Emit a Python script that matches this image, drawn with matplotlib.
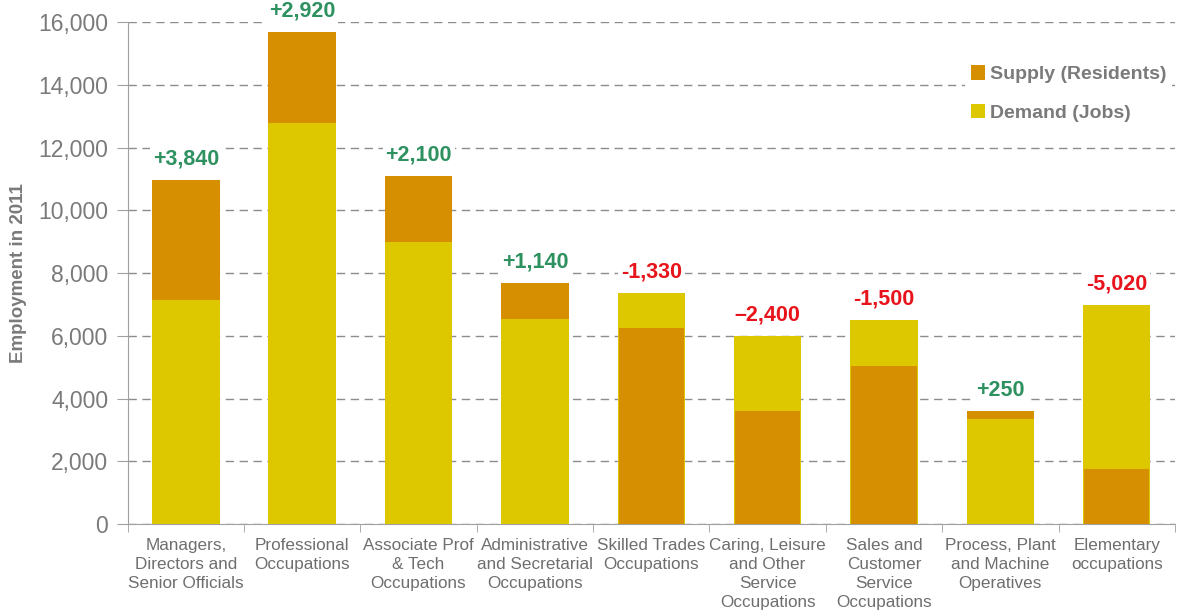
import numpy as np
import matplotlib.pyplot as plt
from matplotlib.patches import Patch

categories = [
    "Managers,\nDirectors and\nSenior Officials",
    "Professional\nOccupations",
    "Associate Prof\n& Tech\nOccupations",
    "Administrative\nand Secretarial\nOccupations",
    "Skilled Trades\nOccupations",
    "Caring, Leisure\nand Other\nService\nOccupations",
    "Sales and\nCustomer\nService\nOccupations",
    "Process, Plant\nand Machine\nOperatives",
    "Elementary\noccupations",
]
supply = [10980, 15700, 11100, 7680, 6250, 3600, 5040, 3600, 1750]
demand = [7140, 12780, 9000, 6540, 7360, 5990, 6500, 3350, 6980]
diff_labels = ["+3,840", "+2,920", "+2,100", "+1,140", "-1,330", "\u20132,400",
               "-1,500", "+250", "-5,020"]

ORANGE = "#d68f00"
YELLOW = "#ddc800"
GREEN = "#2e9160"
RED = "#e8141c"

plt.rcParams['font.family'] = ['Liberation Sans', 'DejaVu Sans']

fig = plt.figure(figsize=(11.82, 6.15), dpi=100)
ax = fig.add_axes([0.108, 0.148, 0.886, 0.816])

x = np.arange(len(categories))
w = 0.58
for i in x:
    s, d = supply[i], demand[i]
    # larger value drawn behind, smaller in front
    if s >= d:
        ax.bar(i, s, w, color=ORANGE, zorder=2)
        ax.bar(i, d, w, color=YELLOW, zorder=3)
    else:
        ax.bar(i, d, w, color=YELLOW, zorder=2)
        ax.bar(i, s, w * 0.97, color=ORANGE, zorder=3)
    top = max(s, d)
    col = GREEN if diff_labels[i].startswith("+") else RED
    ax.text(i, top + 330, diff_labels[i], ha='center', va='bottom',
            color=col, fontsize=15.5, fontweight='bold', zorder=5, clip_on=False,
            bbox=dict(facecolor='white', edgecolor='none', pad=2))

ax.set_xlim(-0.5, len(categories) - 0.5)
ax.set_ylim(0, 16000)
ax.set_yticks(np.arange(0, 16001, 2000))
ax.set_yticklabels([f"{v:,}" for v in range(0, 16001, 2000)])
ax.yaxis.grid(True, linestyle=(0, (6, 4)), color='#8c8c8c', linewidth=1.0, zorder=0)
ax.set_axisbelow(True)

ax.set_xticks(x)
ax.set_xticklabels(categories, fontsize=12.3, color='#6e6e6e', linespacing=1.35)
ax.set_xticks(np.arange(-0.5, len(categories)), minor=True)
ax.tick_params(axis='x', which='major', length=0, pad=10)
ax.tick_params(axis='x', which='minor', length=6, color='#a0a0a0', direction='out')
ax.tick_params(axis='y', length=8, color='#a0a0a0', labelsize=16.5,
               labelcolor='#7a7a7a', pad=6)

for side in ['top', 'right']:
    ax.spines[side].set_visible(False)
for side in ['left', 'bottom']:
    ax.spines[side].set_color('#a0a0a0')

ax.set_ylabel("Employment in 2011", fontsize=13.5, fontweight='bold', color='#7a7a7a',
              labelpad=8)

handles = [Patch(facecolor=ORANGE, label='Supply (Residents)'),
           Patch(facecolor=YELLOW, label='Demand (Jobs)')]
leg = ax.legend(handles=handles, loc='upper left', bbox_to_anchor=(0.79, 0.945),
                frameon=True, fontsize=14, handlelength=0.75, handleheight=0.75,
                handletextpad=0.25, labelspacing=1.05, borderpad=0.3)
leg.get_frame().set_facecolor('white')
leg.get_frame().set_edgecolor('none')
leg.get_frame().set_alpha(1)
for t in leg.get_texts():
    t.set_color('#7a7a7a')
    t.set_fontweight('bold')

fig.savefig("out.png", dpi=100)
